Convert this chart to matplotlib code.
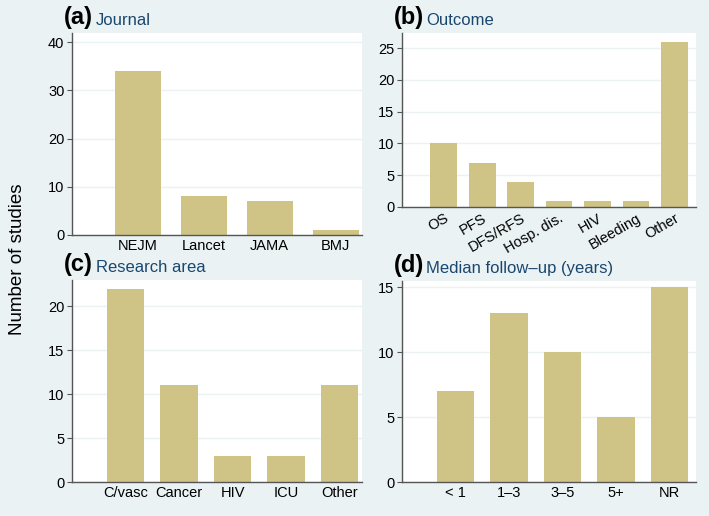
import matplotlib
matplotlib.use("Agg")
import matplotlib.pyplot as plt

plt.rcParams['font.family'] = ['Liberation Sans', 'DejaVu Sans']

# data
journal = ["NEJM", "Lancet", "JAMA", "BMJ"]
journal_n = [34, 8, 7, 1]

outcome = ["OS", "PFS", "DFS/RFS", "Hosp. dis.", "HIV", "Bleeding", "Other"]
outcome_n = [10, 7, 4, 1, 1, 1, 26]

area = ["C/vasc", "Cancer", "HIV", "ICU", "Other"]
area_n = [22, 11, 3, 3, 11]

followup = ["< 1", "1\u20133", "3\u20135", "5+", "NR"]
followup_n = [7, 13, 10, 5, 15]

bg = "#EAF2F3"
bar_col = "#CFC486"
navy = "#1A476F"
W, H = 709, 516

fig = plt.figure(figsize=(W / 100, H / 100), dpi=100, facecolor=bg)


def panel(l, r, t, b, cats, vals, xlim, ylim, yticks, letter, title, rot=0):
    ax = fig.add_axes([l / W, 1 - b / H, (r - l) / W, (b - t) / H])
    x = list(range(1, len(cats) + 1))
    ax.bar(x, vals, width=0.7, color=bar_col, edgecolor="none", zorder=2)
    ax.set_xlim(*xlim)
    ax.set_ylim(*ylim)
    ax.set_yticks(yticks)
    ax.set_xticks(x)
    if rot:
        ax.set_xticklabels(cats, rotation=rot, ha="right", rotation_mode="anchor")
    else:
        ax.set_xticklabels(cats)
    ax.tick_params(axis="x", length=0, pad=3, labelsize=10.5)
    ax.tick_params(axis="y", length=3.5, color="#555555", labelsize=10.5, pad=2)
    for s in ["top", "right"]:
        ax.spines[s].set_visible(False)
    for s in ["left", "bottom"]:
        ax.spines[s].set_color("#555555")
        ax.spines[s].set_linewidth(1.0)
    ax.grid(axis="y", color=bg, linewidth=1.0, zorder=0)
    ax.set_facecolor("white")
    fig.text((l - 8) / W, 1 - (t - 4) / H, letter, fontsize=17, fontweight="bold",
             ha="left", va="bottom")
    fig.text((l + 24) / W, 1 - (t - 5) / H, title, fontsize=12, color=navy,
             ha="left", va="bottom")
    return ax


panel(72, 362, 33, 235, journal, journal_n, (0, 4.4), (0, 41.9),
      [0, 10, 20, 30, 40], "(a)", "Journal")
panel(402, 696, 33, 207, outcome, outcome_n, (-0.08, 7.56), (0, 27.4),
      [0, 5, 10, 15, 20, 25], "(b)", "Outcome", rot=30)
panel(72, 362, 280, 482, area, area_n, (0, 5.42), (0, 23.0),
      [0, 5, 10, 15, 20], "(c)", "Research area")
panel(402, 696, 281, 482, followup, followup_n, (0, 5.5), (0, 15.5),
      [0, 5, 10, 15], "(d)", "Median follow\u2013up (years)")

fig.text(18 / W, 1 - 259 / H, "Number of studies", rotation=90, fontsize=13.5,
         ha="center", va="center")

fig.savefig("out.png", dpi=100, facecolor=bg)
